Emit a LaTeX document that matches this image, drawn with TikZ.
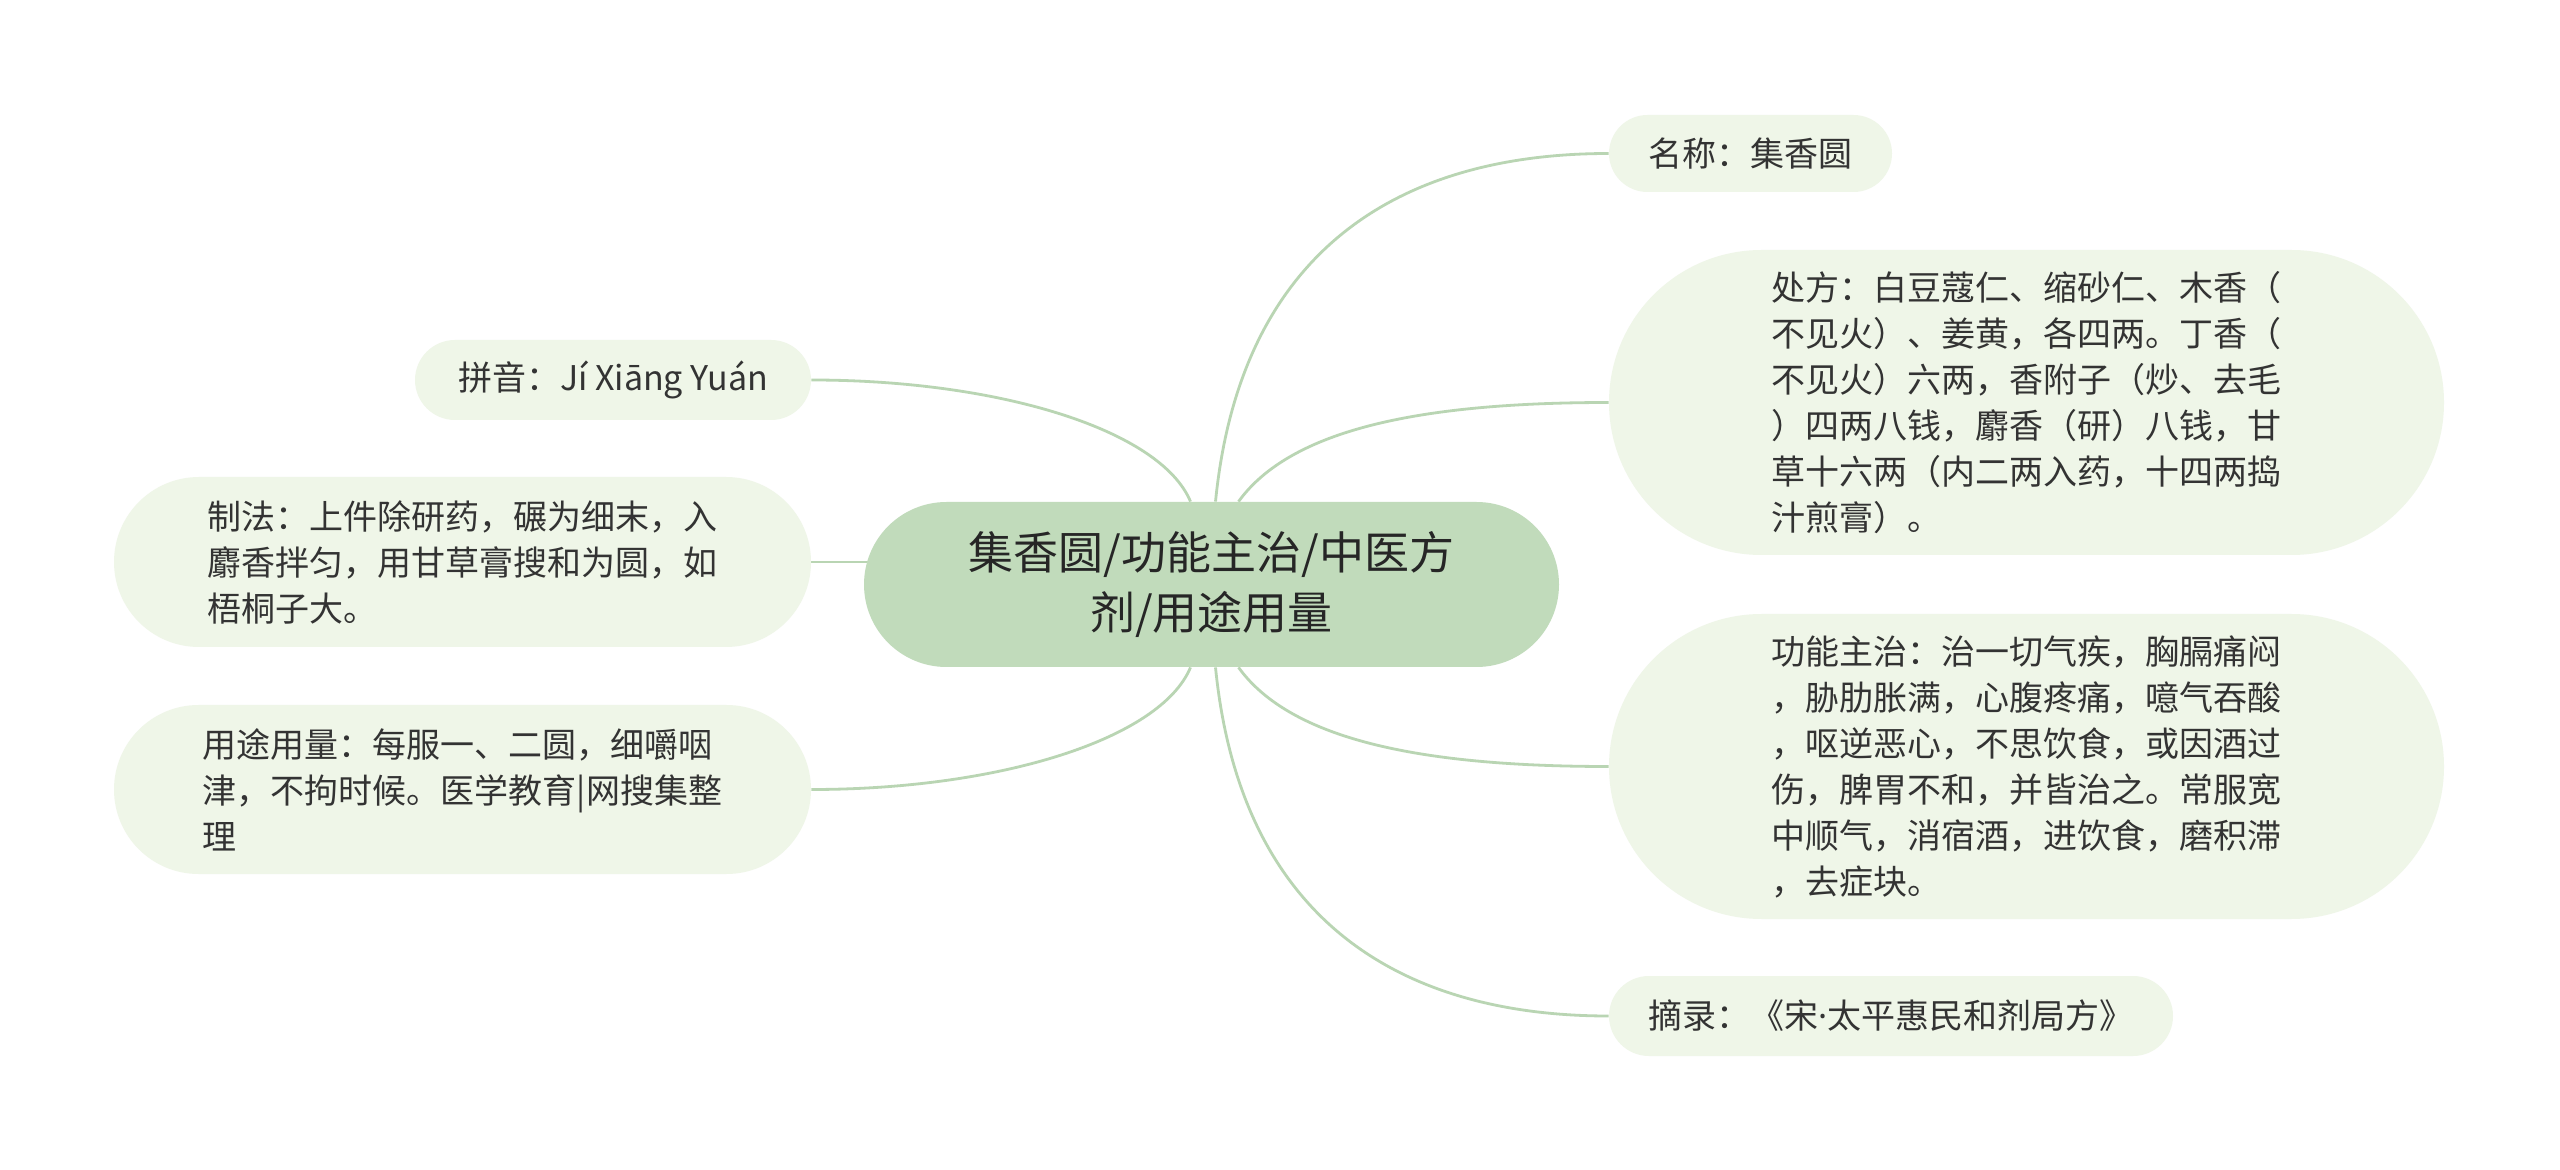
\documentclass[tikz,border=0pt]{standalone}
\usepackage{fontspec}
\setmainfont{Noto Sans CJK SC}
\newfontfamily\latinfont{Noto Sans}
\usetikzlibrary{calc,backgrounds}
\definecolor{rootfill}{HTML}{C1DBBB}
\definecolor{leaffill}{HTML}{EFF6E8}
\definecolor{linkc}{HTML}{B9D5B3}
\definecolor{txt}{HTML}{333333}
\tikzset{
  leaf/.style={fill=leaffill, inner sep=0pt, text=txt, align=left,
    font=\fontsize{17pt}{23pt}\selectfont},
  rootnode/.style={fill=rootfill, inner sep=0pt, text=black!85, align=center,
    font=\fontsize{22.5pt}{30pt}\selectfont,
    minimum width=347.5pt, minimum height=82.5pt, rounded corners=41.25pt},
  link/.style={draw=linkc, line width=1.4pt}
}
\begin{document}
\begin{tikzpicture}[x=0.5pt,y=-0.5pt]
\useasboundingbox (0,0) rectangle (2560,1170);

% central node
\node[rootnode] (C) at (1211.5,584.5) {集香圆/功能主治/中医方\\剂/用途用量};

% right children
\node[leaf, minimum width=141.5pt, minimum height=38.5pt, rounded corners=19.25pt]
  (N1) at (1750.5,153.5) {名称：集香圆};
\node[leaf, minimum width=417.5pt, minimum height=152.5pt, rounded corners=76.25pt]
  (N2) at (2026.5,402.5) {处方：白豆蔻仁、缩砂仁、木香（\\不见火）、姜黄，各四两。丁香（\\不见火）六两，香附子（炒、去毛\\）四两八钱，麝香（研）八钱，甘\\草十六两（内二两入药，十四两捣\\汁煎膏）。};
\node[leaf, minimum width=417.5pt, minimum height=152.5pt, rounded corners=76.25pt]
  (N3) at (2026.5,766.5) {功能主治：治一切气疾，胸膈痛闷\\，胁肋胀满，心腹疼痛，噫气吞酸\\，呕逆恶心，不思饮食，或因酒过\\伤，脾胃不和，并皆治之。常服宽\\中顺气，消宿酒，进饮食，磨积滞\\，去症块。};
\node[leaf, minimum width=282pt, minimum height=40pt, rounded corners=20pt]
  (N4) at (1891,1016) {摘录：《宋{\latinfont ·}太平惠民和剂局方》};

% left children
\node[leaf, minimum width=198pt, minimum height=40pt, rounded corners=20pt]
  (L1) at (613,380) {拼音：Jí Xiāng Yuán};
\node[leaf, minimum width=348.5pt, minimum height=85pt, rounded corners=42.5pt]
  (L2) at (462.5,562) {制法：上件除研药，碾为细末，入\\麝香拌匀，用甘草膏搜和为圆，如\\梧桐子大。};
\node[leaf, minimum width=348.5pt, minimum height=84.5pt, rounded corners=42.25pt]
  (L3) at (462.5,789.5) {用途用量：每服一、二圆，细嚼咽\\津，不拘时候。医学教育|网搜集整\\理};

\begin{pgfonlayer}{background}
\fill[white] (0,0) rectangle (2560,1170);
% right connectors
\draw[link] ($(C.north)+(4,0)$) .. controls ($(C.north)+(29,-252)$) and ($(N1.west)+(-209,0)$) .. (N1.west);
\draw[link] ($(C.north)+(27,0)$) .. controls ($(C.north)+(79,-72)$) and ($(N2.west)+(-189,0)$) .. (N2.west);
\draw[link] ($(C.south)+(27,0)$) .. controls ($(C.south)+(79,72)$) and ($(N3.west)+(-189,0)$) .. (N3.west);
\draw[link] ($(C.south)+(4,0)$) .. controls ($(C.south)+(29,252)$) and ($(N4.west)+(-209,0)$) .. (N4.west);
% left connectors
\draw[link] (L1.east) .. controls ($(L1.east)+(187,0)$) and ($(C.north)+(-51,-72)$) .. ($(C.north)+(-21,0)$);
\draw[link] (L2.east) -- ($(L2.east -| C.west)+(20,0)$);
\draw[link] (L3.east) .. controls ($(L3.east)+(187,0)$) and ($(C.south)+(-51,72)$) .. ($(C.south)+(-21,0)$);
\end{pgfonlayer}
\end{tikzpicture}
\end{document}
